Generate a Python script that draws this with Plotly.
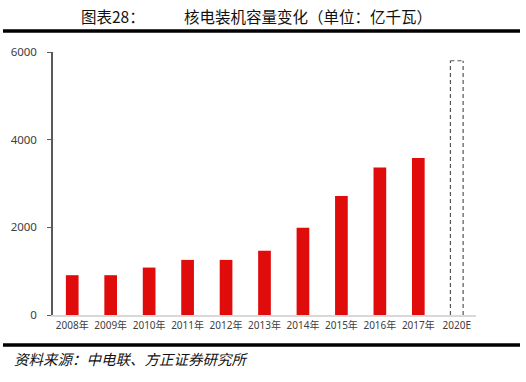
import plotly.graph_objects as go

categories = ["2008年", "2009年", "2010年", "2011年", "2012年", "2013年",
              "2014年", "2015年", "2016年", "2017年", "2020E"]
actual_values = [908, 908, 1082, 1257, 1257, 1466, 1988, 2717, 3364, 3582]
forecast_label = "2020E"
forecast_value = 5800
y_ticks = [0, 2000, 4000, 6000]

W, H = 526, 382
L, R, T, B = 53, 50, 52, 67
pw, ph = W - L - R, H - T - B

def px_x(px):
    return (px - L) / pw

def px_y(py):
    return (H - B - py) / ph

fig = go.Figure()
fig.add_trace(go.Bar(
    x=categories[:len(actual_values)], y=actual_values,
    marker=dict(color="#e00b0b", line=dict(width=0)),
    hoverinfo="x+y",
))
fig.add_trace(go.Bar(x=[forecast_label], y=[forecast_value],
                     marker=dict(color="rgba(0,0,0,0)", line=dict(width=0)),
                     hoverinfo="x+y"))

bw = 0.33
idx = categories.index(forecast_label)
x0, x1 = idx - bw / 2, idx + bw / 2
dash_line = dict(color="#555555", width=1.2, dash="4px,3px")
for sx0, sy0, sx1, sy1 in [(x0, 0, x0, forecast_value),
                           (x1, 0, x1, forecast_value),
                           (x0, forecast_value, x1, forecast_value)]:
    fig.add_shape(type="line", xref="x", yref="y", x0=sx0, y0=sy0, x1=sx1, y1=sy1,
                  line=dash_line, layer="above")

fig.add_shape(type="line", xref="paper", yref="paper",
              x0=px_x(3), x1=px_x(520), y0=px_y(31), y1=px_y(31),
              line=dict(color="black", width=3.5))
fig.add_shape(type="line", xref="paper", yref="paper",
              x0=px_x(3), x1=px_x(520), y0=px_y(345), y1=px_y(345),
              line=dict(color="black", width=3.5))

title_font = dict(family="Noto Sans CJK SC", size=15.5, color="#111111")
fig.add_annotation(text="图表28：", xref="paper", yref="paper",
                   x=px_x(79), y=px_y(16), xanchor="left", yanchor="middle",
                   showarrow=False, font=title_font)
fig.add_annotation(text="核电装机容量变化（单位：亿千瓦）", xref="paper", yref="paper",
                   x=px_x(182), y=px_y(16), xanchor="left", yanchor="middle",
                   showarrow=False, font=title_font)
fig.add_annotation(text="<i>资料来源：中电联、方正证券研究所</i>", xref="paper", yref="paper",
                   x=px_x(12), y=px_y(358), xanchor="left", yanchor="middle",
                   showarrow=False,
                   font=dict(family="Noto Sans CJK SC", size=14.5, color="#111111"))

fig.update_layout(
    width=W, height=H,
    margin=dict(l=L, r=R, t=T, b=B, pad=0, autoexpand=False),
    plot_bgcolor="white", paper_bgcolor="white",
    showlegend=False, bargap=0.67, barmode="overlay",
    font=dict(family="Noto Sans", color="#404040"),
)
fig.update_xaxes(type="category", categoryorder="array", categoryarray=categories,
                 showline=True, linecolor="#d9d9d9", linewidth=2,
                 ticks="", showgrid=False, zeroline=False, automargin=False,
                 tickfont=dict(family="Noto Sans, Noto Sans CJK SC", size=10, color="#404040"),
                 range=[-0.5, len(categories) - 0.5])
fig.update_yaxes(range=[0, 6000], tickvals=y_ticks, showline=True, automargin=False,
                 linecolor="#595959", linewidth=1.5, ticks="outside",
                 ticklen=4, tickcolor="#595959", showgrid=False, zeroline=False,
                 tickfont=dict(family="Noto Sans", size=11.5, color="#404040"),
                 ticklabelstandoff=8)

fig.write_html("out.html", config={"displayModeBar": False},
               post_script="document.body.style.margin='0';")
